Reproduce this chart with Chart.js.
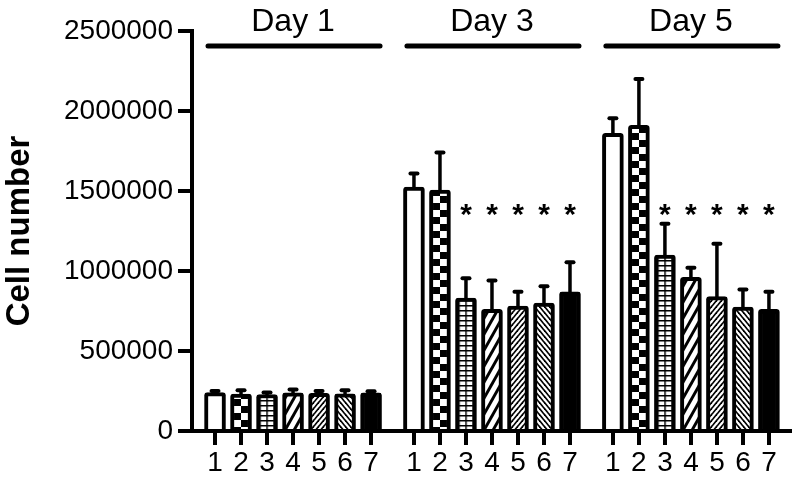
<!DOCTYPE html>
<html>
<head>
<meta charset="utf-8">
<script src="https://cdn.jsdelivr.net/npm/chart.js@4/dist/chart.umd.min.js"></script>
<style>
  html, body { margin: 0; background: #fff; }
</style>
</head>
<body>
<canvas id="chart" width="796" height="480"></canvas>
<script>
(function(){
  // ---- data ----
  const dayLabels = ['Day 1', 'Day 3', 'Day 5'];
  const barLabels = ['1', '2', '3', '4', '5', '6', '7'];

  const day1Mean = [240000, 230000, 228000, 238000, 235000, 232000, 238000];
  const day1Sd   = [10000, 25000, 12000, 22000, 15000, 22000, 10000];
  const day3Mean = [1525000, 1505000, 830000, 760000, 780000, 800000, 870000];
  const day3Sd   = [85000, 235000, 125000, 180000, 90000, 105000, 185000];
  const day5Mean = [1860000, 1910000, 1100000, 960000, 840000, 775000, 760000];
  const day5Sd   = [95000, 290000, 195000, 60000, 330000, 110000, 110000];

  const day1Star = [0, 0, 0, 0, 0, 0, 0];
  const day3Star = [0, 0, 1, 1, 1, 1, 1];
  const day5Star = [0, 0, 1, 1, 1, 1, 1];

  const yTicks = [0, 500000, 1000000, 1500000, 2000000, 2500000];
  const starLevel = 1400000;

  const means = [day1Mean, day3Mean, day5Mean];
  const sds = [day1Sd, day3Sd, day5Sd];
  const stars = [day1Star, day3Star, day5Star];

  // ---- layout along the x axis (in bar slots) ----
  const GROUP_STEP = 7.65;
  const barX = (g, i) => g * GROUP_STEP + i;
  const FONT = '"Liberation Sans", Arial, Helvetica, sans-serif';

  // ---- fill patterns ----
  function tile(w, h, draw){
    const c = document.createElement('canvas');
    c.width = w; c.height = h;
    const g = c.getContext('2d');
    g.fillStyle = '#fff'; g.fillRect(0, 0, w, h);
    g.fillStyle = '#000'; g.strokeStyle = '#000';
    draw(g, w, h);
    return c;
  }
  function diag(w, h, lw, dir){
    return tile(w, h, (g)=>{
      g.lineWidth = lw;
      [-w, 0, w].forEach(dx=>{
        g.beginPath();
        if(dir === '/'){ g.moveTo(dx - w, 2*h); g.lineTo(dx + 2*w, -h); }
        else { g.moveTo(dx - w, -h); g.lineTo(dx + 2*w, 2*h); }
        g.stroke();
      });
    });
  }
  const tiles = [
    null,
    tile(14, 14, (g)=>{ g.fillRect(0, 0, 7, 7); g.fillRect(7, 7, 7, 7); }),
    tile(7, 5, (g)=>{ g.fillRect(0, 0, 1.5, 5); g.fillRect(0, 0, 7, 1.5); }),
    diag(9, 16, 3, '/'),
    diag(5, 6, 1.7, '/'),
    diag(5, 6, 1.7, '\\'),
    null
  ];

  function fillFor(i){
    if(i === 0) return '#fff';
    if(i === 6) return '#000';
    return (c)=>{
      const p = c.chart.ctx.createPattern(tiles[i], 'repeat');
      if(c.raw && c.chart.scales.x){
        const cx = Math.round(c.chart.scales.x.getPixelForValue(c.raw.x));
        const off = i === 2 ? cx - 0.75 : cx;
        p.setTransform(new DOMMatrix([1, 0, 0, 1, off, 0]));
      }
      return p;
    };
  }

  const datasets = barLabels.map((lab, i)=>({
    label: lab,
    data: [0, 1, 2].map(g=> ({ x: barX(g, i), y: means[g][i] })),
    sd: [0, 1, 2].map(g=> sds[g][i]),
    star: [0, 1, 2].map(g=> stars[g][i]),
    backgroundColor: fillFor(i),
    borderColor: '#000',
    borderWidth: 4,
    borderRadius: 3,
    borderSkipped: 'bottom',
    barThickness: 21,
    grouped: false
  }));

  const tickPositions = [];
  [0, 1, 2].forEach(g=> barLabels.forEach((_, i)=> tickPositions.push(barX(g, i))));

  // error bars + asterisks
  const errorBars = {
    id: 'errorBars',
    afterDatasetsDraw(chart){
      const { ctx } = chart;
      const y = chart.scales.y;
      ctx.save();
      ctx.strokeStyle = '#000';
      ctx.fillStyle = '#000';
      chart.data.datasets.forEach((ds, di)=>{
        const meta = chart.getDatasetMeta(di);
        meta.data.forEach((bar, g)=>{
          const top = y.getPixelForValue(ds.data[g].y + ds.sd[g]);
          ctx.lineWidth = 3.5;
          ctx.lineCap = 'butt';
          ctx.beginPath(); ctx.moveTo(bar.x, bar.y + 2); ctx.lineTo(bar.x, top); ctx.stroke();
          ctx.lineWidth = 4;
          ctx.lineCap = 'round';
          ctx.beginPath(); ctx.moveTo(bar.x - 3.5, top); ctx.lineTo(bar.x + 3.5, top); ctx.stroke();
          if(ds.star[g]){
            ctx.font = 'bold 30px ' + FONT;
            ctx.textAlign = 'center';
            ctx.textBaseline = 'alphabetic';
            ctx.fillText('*', bar.x, y.getPixelForValue(starLevel) + 30 * 0.57);
          }
        });
      });
      ctx.restore();
    }
  };

  // day headers with bars
  const dayHeaders = {
    id: 'dayHeaders',
    afterDraw(chart){
      const { ctx, chartArea } = chart;
      const x = chart.scales.x;
      ctx.save();
      ctx.fillStyle = '#000';
      ctx.strokeStyle = '#000';
      ctx.font = '32px ' + FONT;
      ctx.textAlign = 'center';
      ctx.textBaseline = 'alphabetic';
      dayLabels.forEach((lab, g)=>{
        const x1 = x.getPixelForValue(barX(g, 0));
        const x2 = x.getPixelForValue(barX(g, barLabels.length - 1));
        ctx.fillText(lab, (x1 + x2) / 2, chartArea.top);
        ctx.lineWidth = 5;
        ctx.lineCap = 'round';
        ctx.beginPath();
        ctx.moveTo(x1 - 7, chartArea.top + 15);
        ctx.lineTo(x2 + 9, chartArea.top + 15);
        ctx.stroke();
      });
      ctx.restore();
    }
  };

  new Chart(document.getElementById('chart'), {
    type: 'bar',
    data: { datasets },
    options: {
      responsive: false,
      animation: false,
      layout: { padding: { top: 31, right: 6, left: 0, bottom: 0 } },
      plugins: { legend: { display: false }, tooltip: { enabled: false } },
      scales: {
        x: {
          type: 'linear',
          offset: false,
          min: -0.885,
          max: 2 * GROUP_STEP + 6 + 0.81,
          afterBuildTicks: (axis)=>{ axis.ticks = tickPositions.map(v=> ({ value: v })); },
          afterFit: (axis)=>{ axis.height = 49; },
          grid: { offset: false, drawOnChartArea: false, drawTicks: true, tickLength: 14, lineWidth: 4, color: '#000' },
          border: { display: true, color: '#000', width: 4 },
          ticks: {
            autoSkip: false, maxRotation: 0, padding: 1,
            color: '#000', font: { family: FONT, size: 28 },
            callback: (v, idx)=> barLabels[idx % barLabels.length]
          }
        },
        y: {
          min: 0,
          max: yTicks[yTicks.length - 1],
          afterBuildTicks: (axis)=>{ axis.ticks = yTicks.map(v=> ({ value: v })); },
          afterFit: (axis)=>{ axis.width = 192; },
          grid: { drawOnChartArea: false, drawTicks: true, tickLength: 14, lineWidth: 4, color: '#000' },
          border: { display: true, color: '#000', width: 4 },
          ticks: {
            padding: 5, color: '#000', font: { family: FONT, size: 28 },
            callback: (v)=> String(v)
          },
          title: {
            display: true, text: 'Cell number', color: '#000', padding: 0,
            font: { family: FONT, size: 33, weight: 'bold' }
          }
        }
      }
    },
    plugins: [errorBars, dayHeaders]
  });
})();
</script>
</body>
</html>
